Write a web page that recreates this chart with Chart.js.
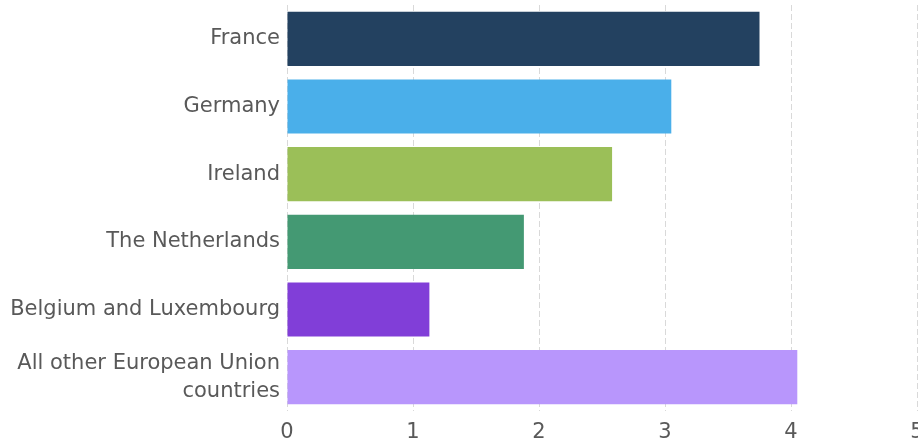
<!DOCTYPE html>
<html>
<head>
<meta charset="utf-8">
<script src="https://cdn.jsdelivr.net/npm/chart.js@4"></script>
<style>
  html, body { margin: 0; padding: 0; background: #fff; overflow: hidden; }
  #wrap { width: 918px; height: 444px; }
</style>
</head>
<body>
<div id="wrap"><canvas id="chart" width="918" height="444"></canvas></div>
<script>
const countries = ['France', 'Germany', 'Ireland', 'The Netherlands', 'Belgium and Luxembourg', ['All other European Union', 'countries']];
const values = [3.75, 3.05, 2.58, 1.88, 1.13, 4.05];
const barColors = ['#234160', '#4AAFEA', '#9BBF58', '#449973', '#813ED8', '#B896FC'];

const labelFont = { family: "'DejaVu Sans', Verdana, sans-serif", size: 21, lineHeight: 1.33 };

const ctx = document.getElementById('chart').getContext('2d');

new Chart(ctx, {
    type: 'bar',
    data: {
        labels: countries,
        datasets: [{ data: values, backgroundColor: barColors, borderWidth: 0, barPercentage: 0.8, categoryPercentage: 1 }]
    },
    options: {
        indexAxis: 'y',
        responsive: false,
        animation: false,
        layout: { padding: { top: 5, right: 1 } },
        plugins: { legend: { display: false }, tooltip: { enabled: false } },
        scales: {
            x: {
                min: 0, max: 5,
                ticks: { stepSize: 1, color: '#595959', padding: 8, font: labelFont },
                grid: { color: '#d9d9d9', lineWidth: 1, drawTicks: false },
                border: { display: false, dash: [6, 3] },
                // let the last tick label run off the edge
                afterFit: scale => { scale.height = 33; scale.paddingLeft = 0; scale.paddingRight = 0; }
            },
            y: {
                ticks: { color: '#595959', padding: 7, font: labelFont },
                grid: { display: false, drawTicks: false },
                border: { display: false },
                afterFit: scale => { scale.width = 287; scale.paddingTop = 0; scale.paddingBottom = 0; }
            }
        }
    }
});
</script>
</body>
</html>
